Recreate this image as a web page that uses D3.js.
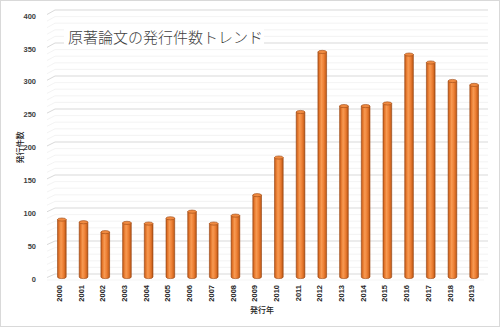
<!DOCTYPE html>
<html>
<head>
<meta charset="utf-8">
<script src="https://cdn.jsdelivr.net/npm/d3@7"></script>
<style>
  html, body { margin: 0; padding: 0; background: #fff; }
  svg { display: block; }
</style>
</head>
<body>
<svg id="chart" width="500" height="327"></svg>
<script>
// Annual counts of original articles
const years = ["2000","2001","2002","2003","2004","2005","2006","2007","2008","2009",
               "2010","2011","2012","2013","2014","2015","2016","2017","2018","2019"];
const counts = [87, 83, 68, 82, 81, 89, 99, 81, 93, 124,
                181, 250, 341, 259, 259, 263, 337, 325, 297, 291];
const yTicks = [0, 50, 100, 150, 200, 250, 300, 350, 400];
const minorTicks = d3.range(0, 401, 10);
const titleText = "原著論文の発行件数トレンド";
const yTitle = "発行件数";
const xTitle = "発行年";

const svg = d3.select("#chart");
const W = 500, H = 327;

// chart area frame
svg.append("rect").attr("x", 0.5).attr("y", 0.5).attr("width", W - 1).attr("height", H - 1)
  .attr("fill", "#fff").attr("stroke", "#d9d9d9");

// scales: front plane (axis labels), back wall, and bar plane
const yFront = d3.scaleLinear().domain([0, 400]).range([279, 16]);
const yBack  = d3.scaleLinear().domain([0, 400]).range([274, 10]);
const yBar   = d3.scaleLinear().domain([0, 400]).range([277, 13]);
const x = d3.scaleBand().domain(years).range([51, 485]).paddingInner(0.6).paddingOuter(0.3);
const wallLeft = 55, wallRight = 488, sideLeft = 47;

// gridlines: side wall diagonals + back wall horizontals
const grid = svg.append("g");
minorTicks.forEach(v => {
  const major = v % 50 === 0;
  const col = major ? "#d9d9d9" : "#f0f0f0";
  const w = major ? 1 : 0.8;
  grid.append("line")
    .attr("x1", sideLeft).attr("y1", yFront(v) - 1.5)
    .attr("x2", wallLeft).attr("y2", yBack(v))
    .attr("stroke", col).attr("stroke-width", w);
  grid.append("line")
    .attr("x1", wallLeft).attr("y1", yBack(v))
    .attr("x2", wallRight).attr("y2", yBack(v))
    .attr("stroke", col).attr("stroke-width", w);
});
// floor front edge
grid.append("line").attr("x1", sideLeft).attr("y1", yFront(0) + 1)
  .attr("x2", wallRight - 4).attr("y2", yFront(0) + 1)
  .attr("stroke", "#f2f2f2").attr("stroke-width", 0.8);

// title with white backing
const titleG = svg.append("g");
titleG.append("rect").attr("x", 64).attr("y", 25).attr("width", 200).attr("height", 22).attr("fill", "#fff");
titleG.append("text").attr("x", 68).attr("y", 43)
  .attr("font-family", "'Noto Sans CJK JP', sans-serif").attr("font-weight", 300)
  .attr("font-size", 15).attr("fill", "#404040").text(titleText);

// y tick labels
svg.append("g").selectAll("text").data(yTicks).join("text")
  .attr("x", 36).attr("y", d => yFront(d)).attr("dy", "0.35em")
  .attr("text-anchor", "end")
  .attr("font-family", "'Liberation Sans', Arial, sans-serif").attr("font-weight", "bold")
  .attr("font-size", 7.5).attr("fill", "#404040")
  .text(d => d);

// cylinder gradients
const defs = svg.append("defs");
const body = defs.append("linearGradient").attr("id", "cyl").attr("x1", 0).attr("x2", 1).attr("y1", 0).attr("y2", 0);
[["0%", "#b8561a"], ["18%", "#e5772c"], ["40%", "#f79a52"], ["65%", "#ef8237"], ["88%", "#d0661f"], ["100%", "#a64d15"]]
  .forEach(([o, c]) => body.append("stop").attr("offset", o).attr("stop-color", c));

const bw = x.bandwidth();
const ry = 1.6;
const bars = svg.append("g").selectAll("g").data(years).join("g");
bars.append("path")
  .attr("d", (d, i) => {
    const x0 = x(d), x1 = x(d) + bw, yt = yBar(counts[i]), yb = yBar(0);
    return `M${x0},${yt} L${x0},${yb} A${bw / 2},${ry} 0 0 0 ${x1},${yb} L${x1},${yt} Z`;
  })
  .attr("fill", "url(#cyl)").attr("stroke", "#9a4712").attr("stroke-width", 0.6);
bars.append("ellipse")
  .attr("cx", d => x(d) + bw / 2).attr("cy", (d, i) => yBar(counts[i]))
  .attr("rx", bw / 2).attr("ry", ry)
  .attr("fill", "#f08a40").attr("stroke", "#9a4712").attr("stroke-width", 0.6);

// x tick labels (rotated)
svg.append("g").selectAll("text").data(years).join("text")
  .attr("transform", d => `translate(${x(d) + bw / 2 - 2.5},285) rotate(-90)`)
  .attr("dy", "0.35em").attr("text-anchor", "end")
  .attr("font-family", "'Liberation Sans', Arial, sans-serif").attr("font-weight", "bold")
  .attr("font-size", 7.5).attr("fill", "#262626")
  .text(d => d);

// axis titles
svg.append("text")
  .attr("transform", "translate(20,147.5) rotate(-90)")
  .attr("dy", "0.35em").attr("text-anchor", "middle")
  .attr("font-family", "'Noto Sans CJK JP', sans-serif").attr("font-weight", 500)
  .attr("font-size", 8).attr("fill", "#262626").text(yTitle);
svg.append("text")
  .attr("x", 262).attr("y", 310).attr("dy", "0.35em").attr("text-anchor", "middle")
  .attr("font-family", "'Noto Sans CJK JP', sans-serif").attr("font-weight", 500)
  .attr("font-size", 8).attr("fill", "#262626").text(xTitle);
</script>
</body>
</html>
